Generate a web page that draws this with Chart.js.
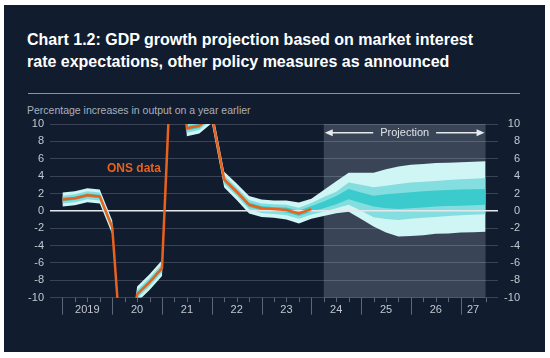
<!DOCTYPE html>
<html><head><meta charset="utf-8">
<script src="https://cdn.jsdelivr.net/npm/chart.js@4"></script>
<style>
html,body{margin:0;padding:0;background:#fff;width:550px;height:358px;overflow:hidden;}
#panel{position:absolute;left:4px;top:5px;width:541px;height:347px;background:#111c2f;}
#title{position:absolute;left:27px;top:29px;font:bold 16px 'Liberation Sans',Arial,sans-serif;line-height:22px;color:#fff;white-space:nowrap;}
#rule{position:absolute;left:28px;top:92.5px;width:492px;height:1px;background:#8a94a3;}
#sub{position:absolute;left:27px;top:104px;font:10.5px 'Liberation Sans',Arial,sans-serif;color:#a9b0bb;white-space:nowrap;}
#c{position:absolute;left:0;top:0;}
</style></head>
<body>
<div id="panel"></div>
<div id="title">Chart 1.2: GDP growth projection based on market interest<br>rate expectations, other policy measures as announced</div>
<div id="rule"></div>
<div id="sub">Percentage increases in output on a year earlier</div>
<canvas id="c" width="550" height="358"></canvas>
<script>
// ---- data ----
const quarters = [
 '2019 Q1','2019 Q2','2019 Q3','2019 Q4','2020 Q1','2020 Q2','2020 Q3','2020 Q4',
 '2021 Q1','2021 Q2','2021 Q3','2021 Q4','2022 Q1','2022 Q2','2022 Q3','2022 Q4',
 '2023 Q1','2023 Q2','2023 Q3','2023 Q4','2024 Q1','2024 Q2','2024 Q3','2024 Q4',
 '2025 Q1','2025 Q2','2025 Q3','2025 Q4','2026 Q1','2026 Q2','2026 Q3','2026 Q4',
 '2027 Q1','2027 Q2','2027 Q3'];
const onsData = [1.3,1.45,1.8,1.65,-1.9,-21.5,-9.6,-8.2,-6.6,26.0,9.5,9.8,11.0,3.6,2.2,0.7,0.3,0.2,0.1,-0.3,0.2];
const fanOuterHigh = [2.1,2.25,2.6,2.45,-1.1,-20.6,-8.7,-7.3,-5.7,26.9,10.4,10.7,11.9,4.5,3.15,1.7,1.3,1.2,1.2,0.95,1.4,2.4,3.4,4.4,4.4,4.4,4.8,5.1,5.3,5.4,5.5,5.55,5.6,5.65,5.7];
const fanMidHigh   = [1.75,1.9,2.25,2.1,-1.45,-21.0,-9.1,-7.7,-6.1,26.5,10.0,10.3,11.5,4.1,2.7,1.25,0.85,0.75,0.7,0.35,0.9,1.6,2.2,3.26,3.0,2.73,2.9,3.1,3.25,3.35,3.45,3.55,3.65,3.7,3.77];
const fanInnerHigh = [1.5,1.65,2.0,1.85,-1.7,-21.3,-9.35,-7.95,-6.35,26.25,9.75,10.05,11.25,3.85,2.45,0.95,0.55,0.45,0.4,0.05,0.55,1.07,1.7,2.53,2.1,1.73,1.9,2.04,2.15,2.25,2.33,2.4,2.45,2.5,2.53];
const fanInnerLow  = [1.1,1.25,1.6,1.45,-2.1,-21.7,-9.85,-8.45,-6.85,25.75,9.25,9.55,10.75,3.35,1.95,0.45,0.05,-0.05,-0.2,-0.6,-0.1,0.3,0.77,1.35,0.9,0.5,0.3,0.2,0.3,0.4,0.5,0.55,0.6,0.65,0.7];
const fanMidLow    = [0.85,1.0,1.35,1.2,-2.35,-22.0,-10.1,-8.7,-7.1,25.5,9.0,9.3,10.5,3.1,1.7,0.15,-0.25,-0.35,-0.5,-0.9,-0.45,-0.08,0.3,0.7,0.0,-0.73,-0.95,-1.04,-0.9,-0.8,-0.7,-0.6,-0.5,-0.45,-0.38];
const fanOuterLow  = [0.5,0.65,1.0,0.85,-2.7,-22.4,-10.5,-9.1,-7.5,25.1,8.6,8.9,10.1,2.7,1.25,-0.3,-0.7,-0.8,-1.0,-1.45,-0.9,-0.58,-0.27,-0.1,-0.95,-1.8,-2.5,-2.96,-2.9,-2.8,-2.65,-2.6,-2.5,-2.45,-2.4];
const yTicks = [10,8,6,4,2,0,-2,-4,-6,-8,-10];
const yearLabels = ['2019','20','21','22','23','24','25','26','27'];
const yearLabelQuarters = ['2019 Q3','2020 Q3','2021 Q3','2022 Q3','2023 Q3','2024 Q3','2025 Q3','2026 Q3','2027 Q2'];
const projectionStart = '2024 Q2';
const onsLabel = {text:'ONS data', x:5.75, y:4.8};
const projLabel = {text:'Projection', y:9.0};
const xMin = -1, xMax = 35, yMin = -10, yMax = 10;

// ---- chart ----
const FONT = "'Liberation Sans', Arial, sans-serif";
Chart.defaults.font.family = FONT;
const pts = arr => arr.map((v,i)=>({x:i,y:v}));
const labelAt = {};
yearLabelQuarters.forEach((q,k)=>{ labelAt[quarters.indexOf(q)] = yearLabels[k]; });

const band = (arr, fill, color, order) => ({
  data: pts(arr), fill: fill, backgroundColor: color, borderColor: 'rgba(0,0,0,0)',
  borderWidth: 0, pointRadius: 0, tension: 0, order: order, clip: 0
});

const deco = {
  id: 'deco',
  beforeDraw(chart){
    const {ctx, scales:{x, y}} = chart;
    const x0 = x.getPixelForValue(quarters.indexOf(projectionStart));
    const x1 = x.getPixelForValue(quarters.length - 1);
    const yt = y.getPixelForValue(yMax), yb = y.getPixelForValue(yMin);
    ctx.save();
    ctx.fillStyle = '#394556';
    ctx.fillRect(x0, yt, x1 - x0, yb - yt);
    ctx.restore();
  },
  afterDraw(chart){
    const {ctx, chartArea: a, scales:{x, y}} = chart;
    ctx.save();
    // x-axis tick marks
    ctx.strokeStyle = '#5d6778';
    ctx.lineWidth = 1;
    quarters.forEach((q, i) => {
      const px = Math.round(x.getPixelForValue(i)) + 0.5;
      const long = q.endsWith('Q1');
      ctx.beginPath();
      ctx.moveTo(px, a.bottom);
      ctx.lineTo(px, a.bottom + (long ? 17 : 4.5));
      ctx.stroke();
    });
    // projection label and arrows
    const x0 = x.getPixelForValue(quarters.indexOf(projectionStart));
    const x1 = x.getPixelForValue(quarters.length - 1);
    const py = y.getPixelForValue(projLabel.y);
    const cx = (x0 + x1) / 2;
    ctx.font = '11px ' + FONT;
    ctx.fillStyle = '#dfe3e8';
    ctx.textAlign = 'center';
    ctx.textBaseline = 'middle';
    ctx.fillText(projLabel.text, cx, py);
    const w = ctx.measureText(projLabel.text).width;
    ctx.strokeStyle = '#e6e9ee';
    ctx.lineWidth = 1.5;
    ctx.beginPath();
    ctx.moveTo(cx - w/2 - 7, py); ctx.lineTo(x0 + 6, py);
    ctx.moveTo(cx + w/2 + 7, py); ctx.lineTo(x1 - 6, py);
    ctx.stroke();
    ctx.fillStyle = '#e6e9ee';
    ctx.beginPath();
    ctx.moveTo(x0 + 1, py); ctx.lineTo(x0 + 9, py - 3.5); ctx.lineTo(x0 + 9, py + 3.5); ctx.closePath(); ctx.fill();
    ctx.beginPath();
    ctx.moveTo(x1 - 1, py); ctx.lineTo(x1 - 9, py - 3.5); ctx.lineTo(x1 - 9, py + 3.5); ctx.closePath(); ctx.fill();
    // ONS label
    ctx.font = 'bold 12px ' + FONT;
    ctx.fillStyle = '#e8621c';
    ctx.fillText(onsLabel.text, x.getPixelForValue(onsLabel.x), y.getPixelForValue(onsLabel.y));
    ctx.restore();
  }
};

const tickFont = {size: 11, family: FONT};
const tickColor = '#c3c8d0';
const gridColor = 'rgba(200,210,225,0.22)';

new Chart(document.getElementById('c'), {
  type: 'line',
  data: {
    datasets: [
      {label:'ONS data', data: pts(onsData), borderColor:'#e8621c', borderWidth:2.5, pointRadius:0, fill:false, tension:0, order:0, clip:0},
      {label:'zero', data:[{x:xMin,y:0},{x:xMax,y:0}], borderColor:'#e4e7ec', borderWidth:1.5, pointRadius:0, fill:false, order:1, clip:0},
      band(fanInnerHigh, '+1', '#3ccbcc', 2),
      band(fanInnerLow, false, 'rgba(0,0,0,0)', 3),
      band(fanMidHigh, '+1', '#84dedf', 4),
      band(fanMidLow, false, 'rgba(0,0,0,0)', 5),
      band(fanOuterHigh, '+1', '#cff5f5', 6),
      band(fanOuterLow, false, 'rgba(0,0,0,0)', 7)
    ]
  },
  options: {
    responsive: false, animation: false, devicePixelRatio: 1,
    layout: {padding: {top: 124, left: 0, right: 30, bottom: 0}},
    plugins: {legend: {display: false}, tooltip: {enabled: false}},
    scales: {
      x: {
        type: 'linear', min: xMin, max: xMax,
        afterBuildTicks: s => { s.ticks = quarters.map((q, i) => ({value: i})); },
        ticks: {autoSkip: false, maxRotation: 0, padding: 6, color: tickColor, font: tickFont,
                callback: v => (labelAt[v] !== undefined ? labelAt[v] : '')},
        grid: {display: false, drawTicks: false}, border: {display: false},
        afterFit: s => { s.height = 60.3; }
      },
      y: {
        position: 'left', min: yMin, max: yMax,
        afterBuildTicks: s => { s.ticks = yTicks.map(v => ({value: v})); },
        ticks: {padding: 6, color: tickColor, font: tickFont},
        grid: {color: gridColor, lineWidth: 1, drawTicks: false}, border: {display: false},
        afterFit: s => { s.width = 50; }
      },
      y2: {
        position: 'right', min: yMin, max: yMax,
        afterBuildTicks: s => { s.ticks = yTicks.map(v => ({value: v})); },
        ticks: {padding: 6, color: tickColor, font: tickFont, crossAlign: 'far'},
        grid: {display: false, drawTicks: false}, border: {display: false},
        afterFit: s => { s.width = 22; }
      }
    }
  },
  plugins: [deco]
});
</script>
</body></html>
